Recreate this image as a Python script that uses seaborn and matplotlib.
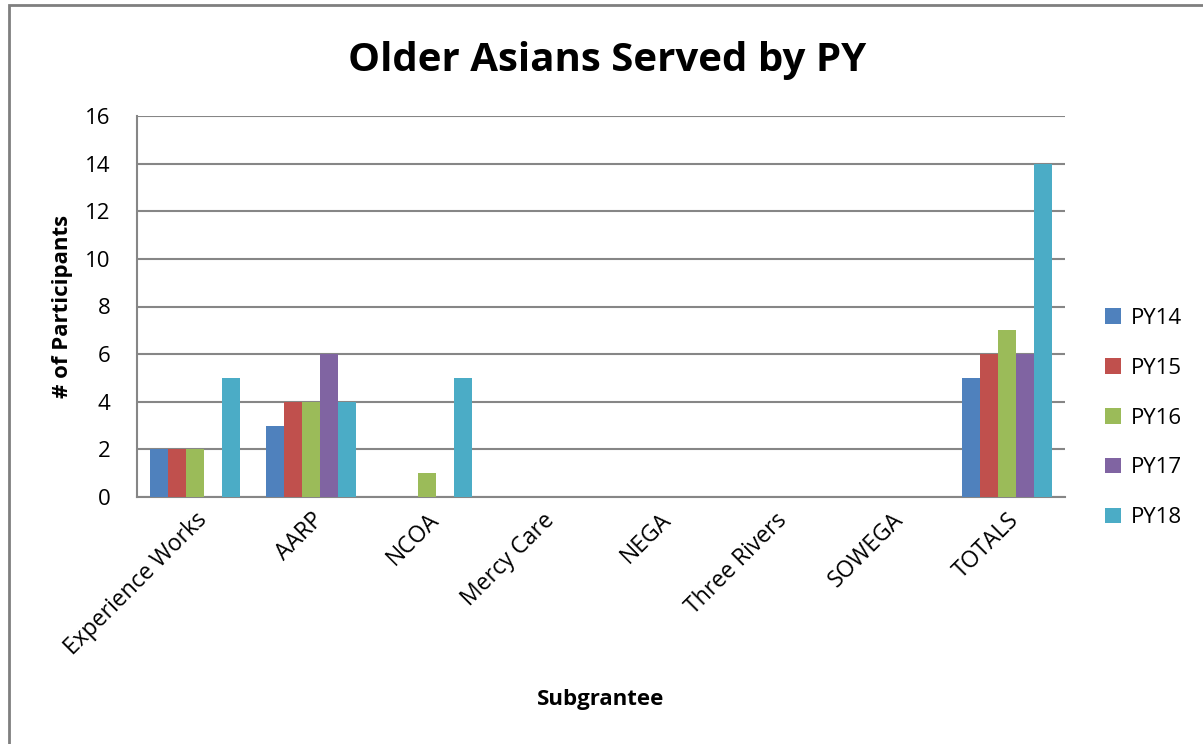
import matplotlib
matplotlib.use("Agg")
import matplotlib.pyplot as plt
import seaborn as sns
import pandas as pd
from matplotlib.patches import Rectangle

categories = ["Experience Works", "AARP", "NCOA", "Mercy Care", "NEGA",
              "Three Rivers", "SOWEGA", "TOTALS"]
series_names = ["PY14", "PY15", "PY16", "PY17", "PY18"]
py14 = [2, 3, 0, 0, 0, 0, 0, 5]
py15 = [2, 4, 0, 0, 0, 0, 0, 6]
py16 = [2, 4, 1, 0, 0, 0, 0, 7]
py17 = [0, 6, 0, 0, 0, 0, 0, 6]
py18 = [5, 4, 5, 0, 0, 0, 0, 14]
colors = ["#4F81BD", "#C0504D", "#9BBB59", "#8064A2", "#4BACC6"]
yticks = [0, 2, 4, 6, 8, 10, 12, 14, 16]

rows = []
for name, vals in zip(series_names, [py14, py15, py16, py17, py18]):
    for c, v in zip(categories, vals):
        rows.append({"Subgrantee": c, "Participants": v, "PY": name})
df = pd.DataFrame(rows)

sns.set_theme(style="white")
plt.rcParams["font.family"] = ["Open Sans", "DejaVu Sans"]
plt.rcParams["text.color"] = "black"
plt.rcParams["axes.labelcolor"] = "black"
plt.rcParams["xtick.color"] = "black"
plt.rcParams["ytick.color"] = "black"

fig = plt.figure(figsize=(12.03, 7.44), dpi=100)
ax = fig.add_axes([137/1203, 1-497/744, (1065-137)/1203, (497-116)/744])

sns.barplot(data=df, x="Subgrantee", y="Participants", hue="PY",
            order=categories, hue_order=series_names, palette=colors,
            saturation=1, width=0.78, gap=0, linewidth=0, ax=ax,
            errorbar=None, zorder=3)

ax.set_ylim(0, 16)
ax.set_xlim(-0.5, len(categories) - 0.5)
ax.set_yticks(yticks)
ax.set_yticklabels([str(t) for t in yticks], fontsize=16)
ax.yaxis.grid(True, color="#868686", linewidth=1.5, zorder=0)
ax.set_axisbelow(True)
for s in ["top", "right"]:
    ax.spines[s].set_visible(False)
for s in ["left", "bottom"]:
    ax.spines[s].set_color("#868686")
    ax.spines[s].set_linewidth(1.5)
ax.tick_params(axis="y", length=0, pad=19)
ax.tick_params(axis="x", length=0, pad=8)
ax.set_xticks(range(len(categories)))
ax.set_xticklabels(categories, rotation=45, ha="right",
                   rotation_mode="anchor", fontsize=16.5)

ax.set_xlabel("Subgrantee", fontsize=16, fontweight="bold")
ax.set_ylabel("# of Participants", fontsize=16, fontweight="bold")
ax.xaxis.set_label_coords(0.5, (497-689)/381, transform=ax.transAxes)
ax.yaxis.set_label_coords((73-137)/928, 0.5, transform=ax.transAxes)

fig.text(607/1203, 1-60/744, "Older Asians Served by PY", ha="center",
         va="center", fontsize=29, fontweight="bold")

handles, labels = ax.get_legend_handles_labels()
leg = ax.legend(handles, labels, loc="center left",
                bbox_to_anchor=(1.022, (497-418)/381),
                frameon=False, fontsize=16, handlelength=0.7,
                handleheight=0.7, labelspacing=1.3, handletextpad=0.45)

fig.patches.append(Rectangle((9/1203, -0.1), 1.2, 1.1 - 5/744,
                             transform=fig.transFigure, fill=False,
                             edgecolor="#7f7f7f", linewidth=2))

fig.savefig("out.png", dpi=100)
